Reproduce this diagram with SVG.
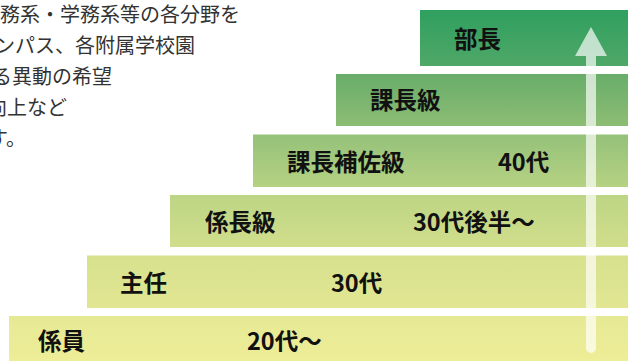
<svg xmlns="http://www.w3.org/2000/svg" width="628" height="361" viewBox="0 0 628 361">
  <style>
    .bar { fill: url(#g); }
    .lbl { font-family: "Noto Sans CJK JP", "Noto Sans", sans-serif; font-weight: bold; font-size: 23.5px; fill: #111; dominant-baseline: central; }
    .body { font-family: "Noto Sans CJK JP", "Noto Sans", sans-serif; font-size: 20px; fill: #333; text-anchor: end; dominant-baseline: central; }
  </style>
  <defs>
    <linearGradient id="g" gradientUnits="userSpaceOnUse" x1="0" y1="10" x2="0" y2="361">
      <stop offset="0" stop-color="#2f9f5f"/>
      <stop offset="0.16" stop-color="#4fa867"/>
      <stop offset="0.182" stop-color="#68ad6a"/>
      <stop offset="0.330" stop-color="#8dbd74"/>
      <stop offset="0.353" stop-color="#94c179"/>
      <stop offset="0.504" stop-color="#b6d283"/>
      <stop offset="0.527" stop-color="#bcd585"/>
      <stop offset="0.675" stop-color="#d1de8b"/>
      <stop offset="0.698" stop-color="#d6e18e"/>
      <stop offset="0.849" stop-color="#e2e692"/>
      <stop offset="0.872" stop-color="#e6e994"/>
      <stop offset="1" stop-color="#eeed98"/>
    </linearGradient>
  </defs>

  <g id="intro-text">
    <text class="body" x="240" y="13">務系・学務系等の各分野を</text>
    <text class="body" x="195" y="44">ンパス、各附属学校園</text>
    <text class="body" x="112" y="75">る異動の希望</text>
    <text class="body" x="67" y="106">向上など</text>
    <text class="body" x="26" y="137">す。</text>
  </g>

  <g id="bucho">
    <rect class="bar" x="420" y="10" width="208" height="56"/>
    <text class="lbl" x="454" y="38">部長</text>
  </g>
  <g id="kachokyu">
    <rect class="bar" x="336" y="74" width="292" height="52"/>
    <text class="lbl" x="370" y="99">課長級</text>
  </g>
  <g id="kachohosakyu">
    <rect class="bar" x="253" y="134.5" width="375" height="52.5"/>
    <text class="lbl" x="287" y="160.5">課長補佐級</text>
    <text class="lbl" x="498" y="160.5">40代</text>
  </g>
  <g id="kakaricho">
    <rect class="bar" x="170" y="195" width="458" height="52"/>
    <text class="lbl" x="205" y="221">係長級</text>
    <text class="lbl" x="413" y="221">30代後半〜</text>
  </g>
  <g id="shunin">
    <rect class="bar" x="87" y="255.5" width="541" height="52.5"/>
    <text class="lbl" x="120" y="282">主任</text>
    <text class="lbl" x="331" y="282">30代</text>
  </g>
  <g id="kakariin">
    <rect class="bar" x="9" y="316" width="619" height="45"/>
    <text class="lbl" x="38" y="340">係員</text>
    <text class="lbl" x="247" y="340">20代〜</text>
  </g>

  <g id="connectors">
    <path d="M591,27 L607,56 L596,56 L596,348 A5,5 0 0 1 586,348 L586,56 L575,56 Z" fill="#ffffff" fill-opacity="0.68"/>
  </g>
</svg>
